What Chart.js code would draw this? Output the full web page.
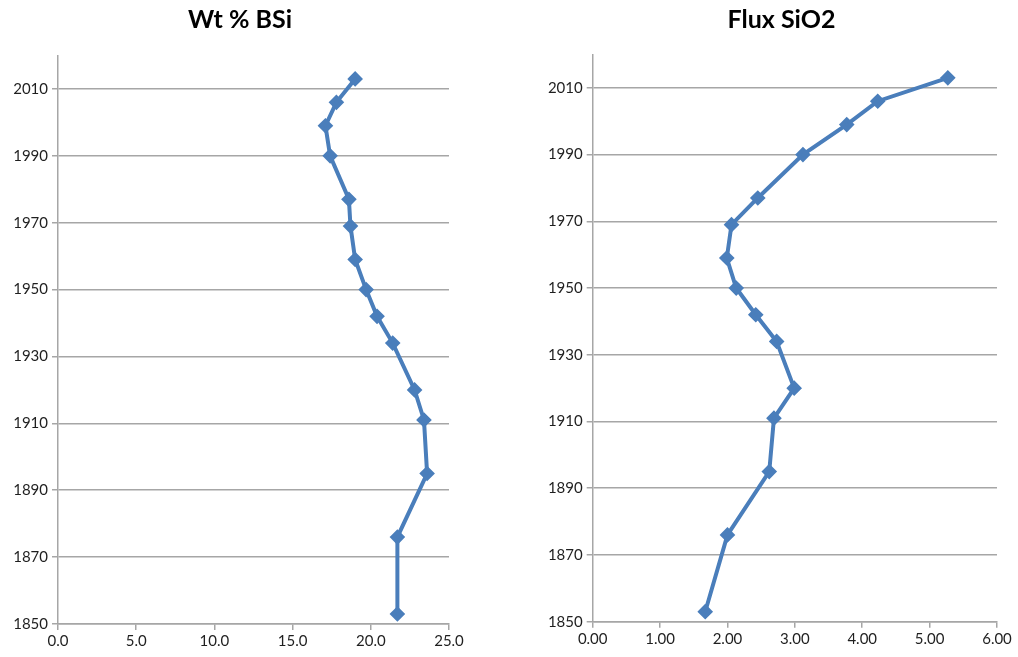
<!DOCTYPE html>
<html>
<head>
<meta charset="utf-8">
<script src="https://cdn.jsdelivr.net/npm/chart.js@4"></script>
<style>
  body { margin: 0; background: #fff; width: 1018px; height: 657px; position: relative; overflow: hidden; }
  .panel { position: absolute; top: 0; height: 657px; }
  #bsi-wrap { left: 0; width: 480px; }
  #flux-wrap { left: 545px; width: 473px; }
</style>
</head>
<body>
<div class="panel" id="bsi-wrap"><canvas id="js-bsi-chart"></canvas></div>
<div class="panel" id="flux-wrap"><canvas id="js-flux-chart"></canvas></div>
<script>
// Core depth dates and the two measured profiles
const years = [2013, 2006, 1999, 1990, 1977, 1969, 1959, 1950, 1942, 1934, 1920, 1911, 1895, 1876, 1853];
const bsiValues = [19.0, 17.8, 17.1, 17.4, 18.6, 18.7, 19.0, 19.7, 20.4, 21.4, 22.8, 23.4, 23.6, 21.7, 21.7];
const fluxValues = [5.27, 4.23, 3.77, 3.12, 2.45, 2.06, 1.99, 2.13, 2.42, 2.73, 2.99, 2.69, 2.62, 2.00, 1.67];

// Tick labels
const yearTicks = [1850, 1870, 1890, 1910, 1930, 1950, 1970, 1990, 2010];
const bsiTicks = [0, 5, 10, 15, 20, 25];
const fluxTicks = [0, 1, 2, 3, 4, 5, 6];

const lineColor = '#4a7ebb';
const gridColor = '#a6a6a6';
const labelFont = { family: 'Lato', size: 15 };

// Layout padding on the right would pull the title off-centre, so stretch its box to the full canvas
const fullWidthTitle = {
  id: 'fullWidthTitle',
  afterLayout(chart) {
    if (chart.titleBlock) {
      chart.titleBlock.left = 0;
      chart.titleBlock.right = chart.width;
      chart.titleBlock.width = chart.width;
    }
  },
};

function makeProfile(canvasId, title, values, xTicks, decimals, opts) {
  const ctx = document.getElementById(canvasId).getContext('2d');
  return new Chart(ctx, {
    type: 'scatter',
    data: {
      datasets: [
        {
          data: years.map((y, i) => ({ x: values[i], y: y })),
          showLine: true,
          borderColor: lineColor,
          backgroundColor: lineColor,
          borderWidth: 4,
          pointStyle: 'rectRot',
          pointRadius: 5,
          pointHoverRadius: 5,
        },
      ],
    },
    plugins: [fullWidthTitle],
    options: {
      responsive: true,
      maintainAspectRatio: false,
      animation: false,
      layout: { padding: { left: 0, right: opts.padRight, top: 0, bottom: 0 } },
      plugins: {
        legend: { display: false },
        tooltip: { enabled: false },
        title: {
          display: true,
          text: title,
          color: '#000',
          font: { family: 'Lato', size: 25, weight: 'bold' },
          padding: { top: 5, bottom: opts.titleGap },
        },
      },
      scales: {
        x: {
          type: 'linear',
          min: xTicks[0],
          max: xTicks[xTicks.length - 1],
          afterBuildTicks: (axis) => { axis.ticks = xTicks.map((v) => ({ value: v })); },
          afterFit: (axis) => { axis.height = opts.xHeight; },
          grid: { drawOnChartArea: false, drawTicks: true, tickLength: 6, color: gridColor, lineWidth: 1.5 },
          border: { display: true, color: gridColor, width: 1.5 },
          ticks: {
            color: '#1f1f1f',
            font: labelFont,
            padding: 2,
            maxRotation: 0,
            callback: (value) => value.toFixed(decimals),
          },
        },
        y: {
          type: 'linear',
          min: 1850,
          max: 2020,
          afterBuildTicks: (axis) => { axis.ticks = yearTicks.map((v) => ({ value: v })); },
          afterFit: (axis) => { axis.width = opts.yWidth; },
          grid: { drawTicks: true, tickLength: 6, color: gridColor, lineWidth: 1.5 },
          border: { display: true, color: gridColor, width: 1.5 },
          ticks: {
            color: '#1f1f1f',
            font: labelFont,
            padding: 4,
            callback: (value) => String(value),
          },
        },
      },
    },
  });
}

makeProfile('js-bsi-chart', 'Wt % BSi', bsiValues, bsiTicks, 1,
  { yWidth: 58, xHeight: 33, padRight: 31, titleGap: 20.5 });
makeProfile('js-flux-chart', 'Flux SiO2', fluxValues, fluxTicks, 2,
  { yWidth: 47.7, xHeight: 35.3, padRight: 21, titleGap: 19.5 });
</script>
</body>
</html>
